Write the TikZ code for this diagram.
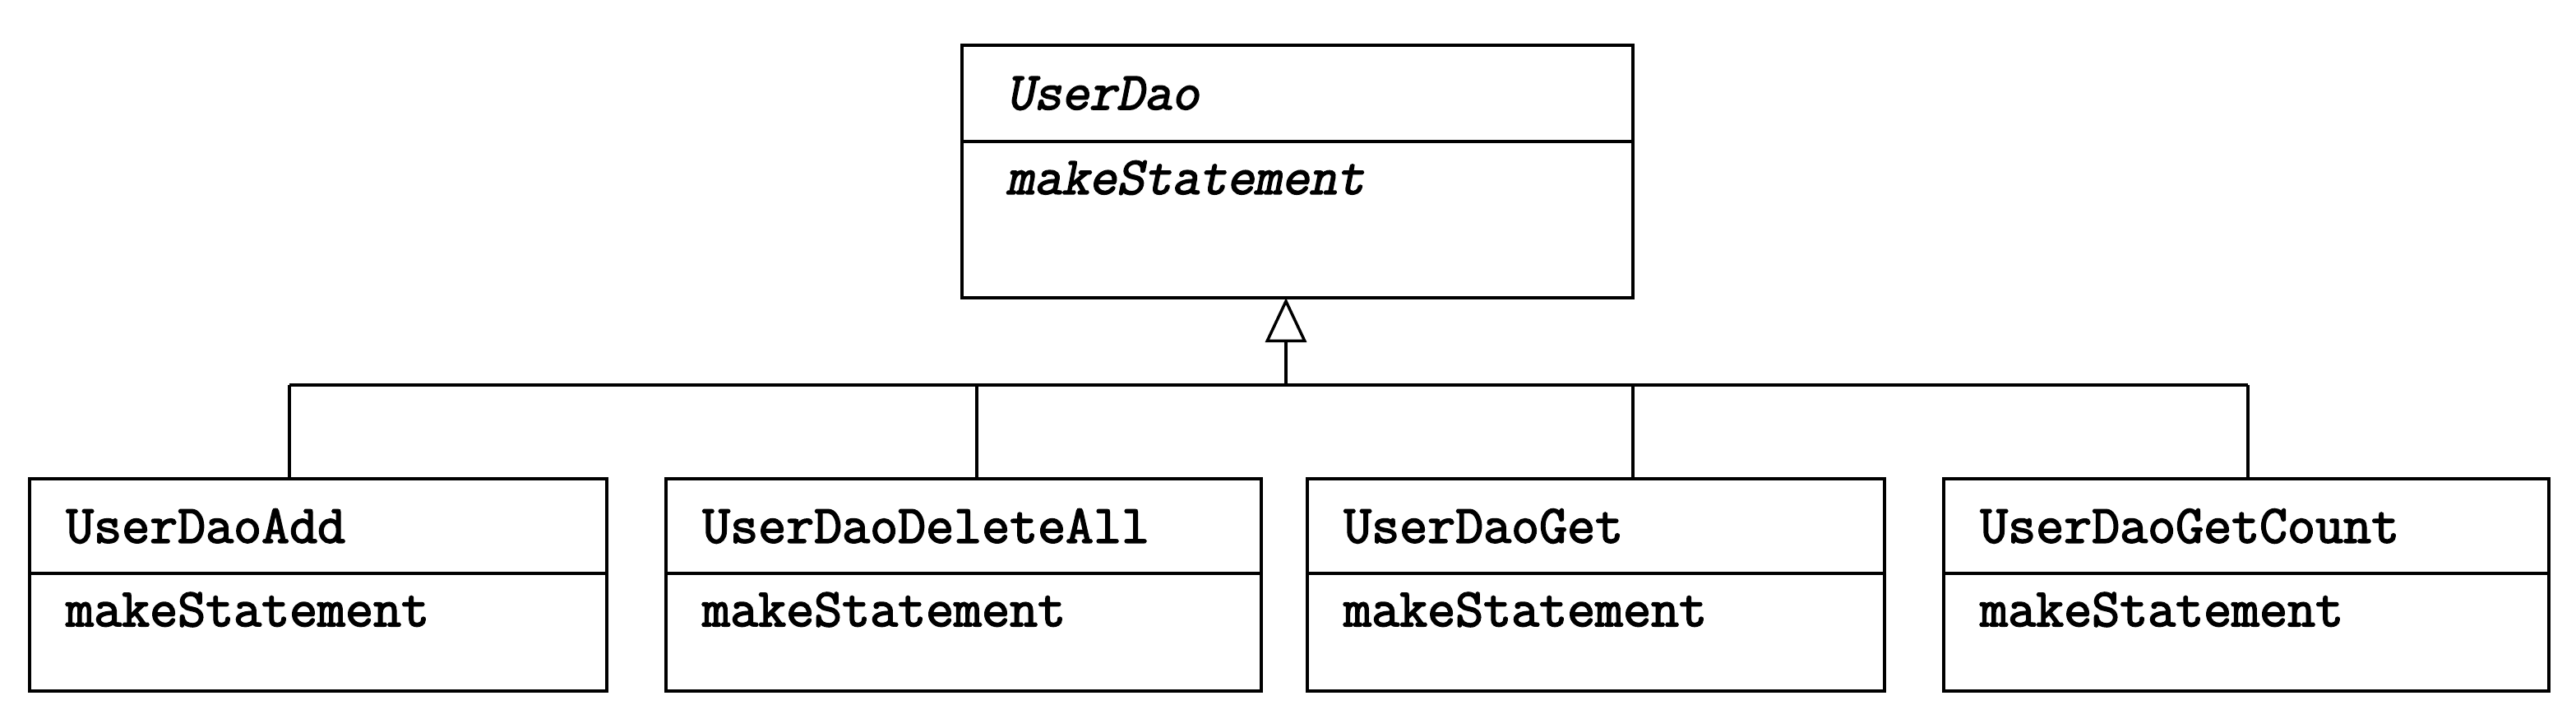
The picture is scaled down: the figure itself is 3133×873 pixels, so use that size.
\documentclass[tikz,border=0pt]{standalone}
\usepackage{fontspec}
\setmonofont{Latin Modern Mono}[FakeBold=2.5]
\newfontfamily\courobl{Latin Modern Mono}[FakeSlant=0.2, FakeBold=2.5]
\usetikzlibrary{arrows.meta}
\newcommand{\clsfont}{\ttfamily\bfseries\fontsize{66pt}{74pt}\selectfont}
\newcommand{\absfont}{\courobl\bfseries\fontsize{65pt}{74pt}\selectfont}
\tikzset{
  cls/.style={draw, line width=3.5pt, anchor=north west, inner sep=0pt, outer sep=0pt},
  lbl/.style={anchor=west, inner sep=0pt, font=\clsfont},
  abslbl/.style={anchor=west, inner sep=0pt, font=\absfont},
  conn/.style={line width=3.5pt},
}
\begin{document}
\begin{tikzpicture}[x=1pt,y=-1pt]
\useasboundingbox (0,0) rectangle (3133,873);
% superclass
\node[cls, minimum width=816pt, minimum height=117pt] (h0) at (1170,55) {};
\node[cls, minimum width=816pt, minimum height=190pt] (b0) at (h0.south west) {};
\node[abslbl] (t0) at ([xshift=54pt]h0.west) {UserDao};
\node[abslbl] (m0) at ([xshift=54pt,yshift=-44pt]b0.north west) {makeStatement};
% subclasses
\foreach \i/\x/\w/\name in {1/36/702/UserDaoAdd, 2/810/724/UserDaoDeleteAll, 3/1590/702/UserDaoGet, 4/2364/736/UserDaoGetCount}{
  \node[cls, minimum width=\w pt, minimum height=115pt] (h\i) at (\x,582) {};
  \node[cls, minimum width=\w pt, minimum height=143pt] (b\i) at (h\i.south west) {};
  \node[lbl] (t\i) at ([xshift=44pt]h\i.west) {\name};
  \node[lbl] (m\i) at ([xshift=44pt,yshift=-44pt]b\i.north west) {makeStatement};
}
% connectors
\coordinate (j1) at (352,468);
\coordinate (j2) at (1188,468);
\coordinate (j3) at (1986,468);
\coordinate (j4) at (2734,468);
\coordinate (jc) at (1564,468);
\draw[conn] (j1) -- (j4);
\foreach \i in {1,2,3,4}{ \draw[conn] (j\i) -- (j\i |- h\i.north); }
\draw[conn, -{Triangle[open, length=54pt, width=50pt, line width=3.5pt]}] (jc) -- (jc |- b0.south);
\end{tikzpicture}
\end{document}
